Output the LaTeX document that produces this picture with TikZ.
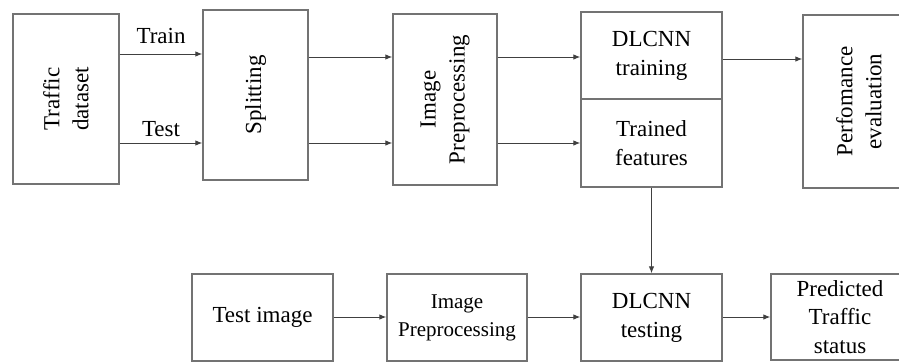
\documentclass[tikz,border=0pt]{standalone}
\usepackage{fontspec}
\setmainfont{Liberation Serif}
\usetikzlibrary{arrows.meta}
\tikzset{
  mainfont/.style={font=\fontsize{23}{29}\selectfont},
  box/.style={draw=black!55, line width=1.3pt, fill=white, inner sep=0pt, align=center, mainfont},
  rtext/.style={rotate=90, align=center, inner sep=0pt, mainfont},
  arr/.style={draw=black!75, line width=1pt, -{Latex[length=7pt,width=5.5pt]}},
  lbl/.style={mainfont, inner sep=0pt}
}
\begin{document}
\begin{tikzpicture}[x=1pt,y=-1pt]
\useasboundingbox (0,0) rectangle (899,362);
\fill[white] (0,0) rectangle (899,362);
% top row
\node[box, minimum width=106, minimum height=170] (traffic) at (66,99) {};
\node[rtext] (trafficT) at (traffic.center) {Traffic\\dataset};
\node[box, minimum width=105, minimum height=170] (split) at (255.5,95) {};
\node[rtext] (splitT) at (split.center) {Splitting};
\node[box, minimum width=104, minimum height=171] (imgpre) at (445,99.5) {};
\node[rtext] (imgpreT) at (imgpre.center) {Image\\Preprocessing};
\node[box, minimum width=141, minimum height=87] (train) at (651.5,55.5) {DLCNN\\training};
\node[box, minimum width=141, minimum height=88] (feat) at (651.5,143) {Trained\\features};
\node[box, minimum width=112, minimum height=173] (perf) at (859,101.5) {};
\node[rtext] (perfT) at (perf.center) {Perfomance\\evaluation};
% bottom row
\node[box, minimum width=141, minimum height=87] (testimg) at (262.5,317.5) {Test image};
\node[box, minimum width=140, minimum height=87, font=\fontsize{21}{28}\selectfont] (imgpre2) at (457,317.5) {Image\\Preprocessing};
\node[box, minimum width=141, minimum height=87] (dtest) at (651.5,317.5) {DLCNN\\testing};
\node[box, minimum width=138, minimum height=86, font=\fontsize{23}{28.5}\selectfont] (pred) at (840,317) {Predicted\\Traffic\\status};
% connectors
\draw[arr] (traffic.east |- 0,54) -- node[lbl, above=10pt] (trainL) {Train} (split.west |- 0,54);
\draw[arr] (traffic.east |- 0,143) -- node[lbl, above=6pt] (testL) {Test} (split.west |- 0,143);
\draw[arr] (split.east |- 0,57) -- (imgpre.west |- 0,57);
\draw[arr] (split.east |- 0,143) -- (imgpre.west |- 0,143);
\draw[arr] (imgpre.east |- 0,57) -- (train.west |- 0,57);
\draw[arr] (imgpre.east |- 0,143) -- (feat.west |- 0,143);
\draw[arr] (train.east |- 0,59) -- (perf.west |- 0,59);
\draw[arr] (feat.south) -- (dtest.north);
\draw[arr] (testimg.east |- 0,317) -- (imgpre2.west |- 0,317);
\draw[arr] (imgpre2.east |- 0,317) -- (dtest.west |- 0,317);
\draw[arr] (dtest.east |- 0,317) -- (pred.west |- 0,317);
\end{tikzpicture}
\end{document}
